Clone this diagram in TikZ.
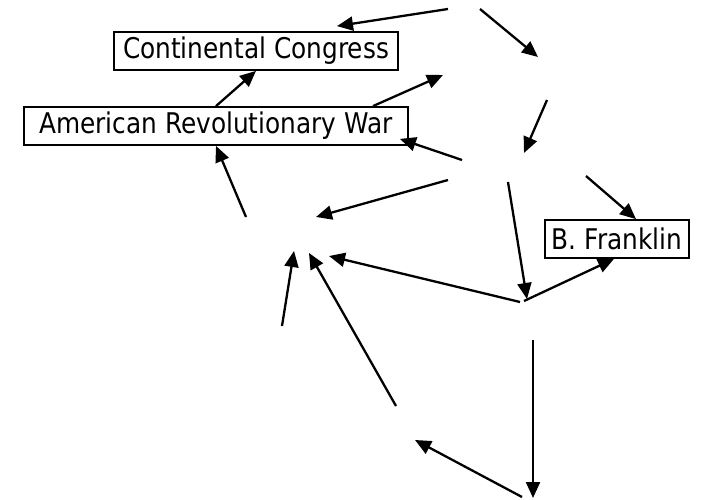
\documentclass[tikz,border=0pt]{standalone}
\usepackage{fontspec}
\setmainfont{DejaVu Sans}[FakeStretch=0.87]
\usetikzlibrary{arrows.meta}
\begin{document}
\begin{tikzpicture}[x=1pt,y=-1pt,
  box/.style={draw, line width=1.8pt, minimum height=38pt, inner sep=0pt,
    font=\fontsize{28.5}{32}\selectfont},
  conn/.style={line width=2.3pt, -{Triangle[length=16pt,width=14pt]}}]
\useasboundingbox (0,0) rectangle (705,500);
% labelled nodes
\node[box, minimum width=284pt] (cc)  at (256,51)  {Continental Congress};
\node[box, minimum width=384pt] (arw) at (216,126) {American Revolutionary War};
\node[box, minimum width=144pt] (bf)  at (617,239) {B. Franklin};
% unlabelled nodes (ports)
\coordinate (t1)  at (448,9);
\coordinate (t2)  at (480,9);
\coordinate (r1)  at (538,57);
\coordinate (r2)  at (547,100);
\coordinate (u1)  at (443,75);
\coordinate (m1)  at (524,153);
\coordinate (m2)  at (462,160);
\coordinate (m3)  at (448,180);
\coordinate (m4)  at (508,182);
\coordinate (m5)  at (586,176);
\coordinate (l1)  at (246,217);
\coordinate (l2)  at (316,217);
\coordinate (c1)  at (294,251);
\coordinate (c2)  at (309,253);
\coordinate (c3)  at (329,256);
\coordinate (p1)  at (527,299);
\coordinate (p2)  at (524,301);
\coordinate (p3)  at (520,302);
\coordinate (p4)  at (533,340);
\coordinate (s1)  at (282,326);
\coordinate (d1)  at (396,406);
\coordinate (d2)  at (415,440);
\coordinate (b1)  at (533,498);
\coordinate (b2)  at (522,497);
% connectors
\draw[conn] (t1) -- ([xshift=81pt,yshift=5pt]cc.north);
\draw[conn] (t2) -- (r1);
\draw[conn] (r2) -- (m1);
\draw[conn] (m2) -- ([xshift=-9pt,yshift=7pt]arw.south east);
\draw[conn] ([xshift=157pt]arw.north) -- (u1);
\draw[conn] (arw.north) -- (cc.south);
\draw[conn] (l1) -- (arw.south);
\draw[conn] (m3) -- (l2);
\draw[conn] (m4) -- (p1);
\draw[conn] (m5) -- ([xshift=19pt]bf.north);
\draw[conn] (p2) -- ([xshift=-3pt]bf.south);
\draw[conn] (p3) -- (c3);
\draw[conn] (s1) -- (c1);
\draw[conn] (d1) -- (c2);
\draw[conn] (p4) -- (b1);
\draw[conn] (b2) -- (d2);
\end{tikzpicture}
\end{document}
